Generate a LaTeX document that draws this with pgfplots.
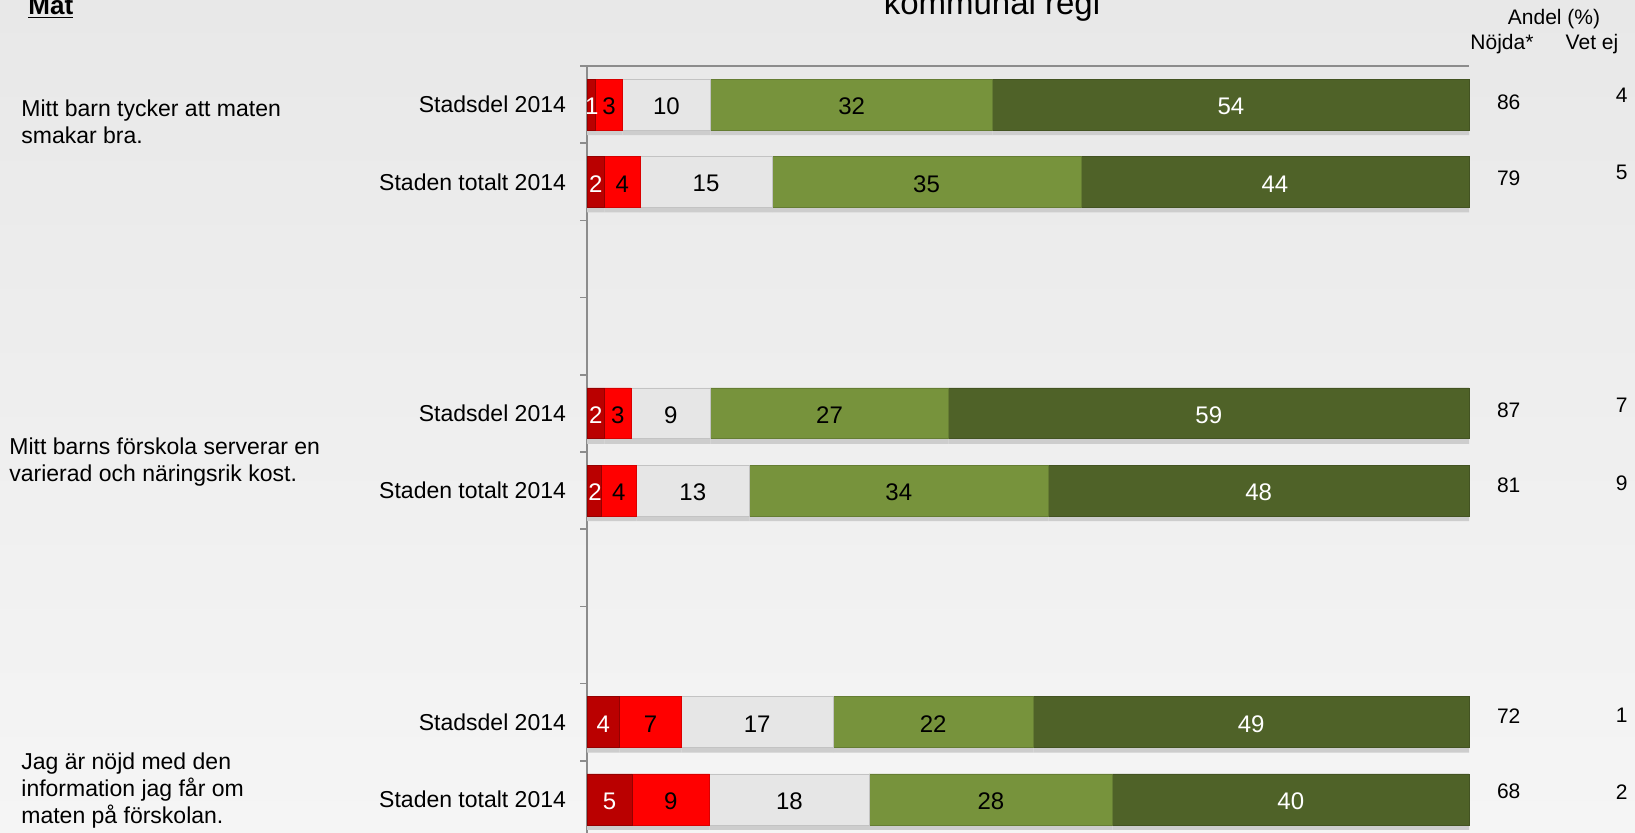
\documentclass[border=0pt]{standalone}
\usepackage{pgfplots}
\pgfplotsset{compat=1.18}
\usepackage{fontspec}
\setmainfont{Liberation Sans}
\definecolor{cA}{HTML}{BA0000}
\definecolor{cB}{HTML}{FF0000}
\definecolor{cC}{HTML}{E6E6E6}
\definecolor{cD}{HTML}{77933C}
\definecolor{cE}{HTML}{4F6228}
\definecolor{bgtop}{HTML}{E8E8E8}
\definecolor{bgbot}{HTML}{F5F5F5}
\definecolor{axisgray}{HTML}{8C8C8C}
\definecolor{shadowgray}{HTML}{CDCDCD}
% label at axis value (x,y): axis spans 587..1469 px horizontally, 66..838 px vertically
\newcommand{\lab}[4]{\node[text=#4,font=\fontsize{12}{14}\selectfont] at ({587+8.82*#1},{68+77.2*#2}) {#3};}
\newcommand{\rnum}[3]{\node[font=\fontsize{10.5}{12}\selectfont] at ({587+8.82*#1},{66+77.2*#2}) {#3};}
\begin{document}
\begin{tikzpicture}
\path[use as bounding box] (0,0) rectangle (817.5pt,-416pt);
\begin{scope}[x=0.5pt,y=-0.5pt]
\shade[top color=bgtop,bottom color=bgbot] (0,0) rectangle (1635,832);
\node[font=\fontsize{16.5}{18}\selectfont, anchor=base] at (992,14) {kommunal regi};
\node[font=\fontsize{13}{15}\selectfont\bfseries, anchor=base west, inner sep=0pt] at (28,14) {\underline{Mat}};
\node[font=\fontsize{10.5}{12}\selectfont] at (1554,19) {Andel (\%)};
\node[font=\fontsize{10.5}{12}\selectfont] at (1502,44) {Nöjda*};
\node[font=\fontsize{10.5}{12}\selectfont] at (1592,44) {Vet ej};
\node[anchor=west, align=left, inner sep=0pt, font=\fontsize{11.5}{13.5}\selectfont] at (21,122) {Mitt barn tycker att maten\\smakar bra.};
\node[anchor=west, align=left, inner sep=0pt, font=\fontsize{11.5}{13.5}\selectfont] at (9,462) {Mitt barns förskola serverar en\\varierad och näringsrik kost.};
\node[anchor=west, align=left, inner sep=0pt, font=\fontsize{11.5}{13.5}\selectfont] at (21,791) {Jag är nöjd med den\\information jag får om\\maten på förskolan.};
\end{scope}
\begin{axis}[
  at={(293.5pt,-33pt)}, anchor=north west,
  scale only axis, width=441pt, height=386pt,
  xmin=0, xmax=100, ymin=0, ymax=10, y dir=reverse,
  hide x axis,
  axis y line*=left,
  y axis line style={draw=axisgray, line width=0.8pt},
  ytick={0.5,1.5,4.5,5.5,8.5,9.5},
  yticklabels={Stadsdel 2014,Staden totalt 2014,Stadsdel 2014,Staden totalt 2014,Stadsdel 2014,Staden totalt 2014},
  minor ytick={0,1,...,10},
  major tick length=0pt, minor tick length=3.5pt,
  tick align=outside,
  minor tick style={draw=axisgray, line width=0.8pt},
  major tick style={draw=none},
  yticklabel style={font=\fontsize{11.5}{13}\selectfont, xshift=-7pt},
  xbar stacked, bar width=0.66,
  clip=false,
  every axis plot/.append style={line width=0.4pt, preaction={fill=shadowgray, draw=none, transform canvas={yshift=-2.5pt}}},
]
\addplot[fill=cA, draw=cA!80!black] coordinates {(1,0.5) (2,1.5) (2,4.5) (1.6,5.5) (3.7,8.5) (5.1,9.5)};
\addplot[fill=cB, draw=cB!85!black] coordinates {(3,0.5) (4,1.5) (3,4.5) (4.0,5.5) (7.0,8.5) (8.8,9.5)};
\addplot[fill=cC, draw=cC!85!black] coordinates {(10,0.5) (15,1.5) (9,4.5) (12.8,5.5) (17.2,8.5) (18.1,9.5)};
\addplot[fill=cD, draw=cD!85!black] coordinates {(32,0.5) (35,1.5) (27,4.5) (33.9,5.5) (22.7,8.5) (27.6,9.5)};
\addplot[fill=cE, draw=cE!85!black] coordinates {(54,0.5) (44,1.5) (59,4.5) (47.7,5.5) (49.4,8.5) (40.4,9.5)};
\draw[axisgray, line width=0.8pt] (axis cs:0,0) -- (axis cs:100,0);
\end{axis}
\begin{scope}[x=0.5pt,y=-0.5pt]
% segment labels (centres of the stacked segments)
\lab{0.55}{0.5}{1}{white}\lab{2.5}{0.5}{3}{black}\lab{9}{0.5}{10}{black}\lab{30}{0.5}{32}{black}\lab{73}{0.5}{54}{white}
\lab{1}{1.5}{2}{white}\lab{4}{1.5}{4}{black}\lab{13.5}{1.5}{15}{black}\lab{38.5}{1.5}{35}{black}\lab{78}{1.5}{44}{white}
\lab{1}{4.5}{2}{white}\lab{3.5}{4.5}{3}{black}\lab{9.5}{4.5}{9}{black}\lab{27.5}{4.5}{27}{black}\lab{70.5}{4.5}{59}{white}
\lab{0.9}{5.5}{2}{white}\lab{3.6}{5.5}{4}{black}\lab{12}{5.5}{13}{black}\lab{35.35}{5.5}{34}{black}\lab{76.15}{5.5}{48}{white}
\lab{1.85}{8.5}{4}{white}\lab{7.2}{8.5}{7}{black}\lab{19.3}{8.5}{17}{black}\lab{39.25}{8.5}{22}{black}\lab{75.3}{8.5}{49}{white}
\lab{2.55}{9.5}{5}{white}\lab{9.5}{9.5}{9}{black}\lab{22.95}{9.5}{18}{black}\lab{45.8}{9.5}{28}{black}\lab{79.8}{9.5}{40}{white}
% right columns: Nöjda* and Vet ej
\rnum{104.5}{0.466}{86}\rnum{104.5}{1.45}{79}\rnum{104.5}{4.456}{87}\rnum{104.5}{5.43}{81}\rnum{104.5}{8.42}{72}\rnum{104.5}{9.40}{68}
\rnum{117.3}{0.376}{4}\rnum{117.3}{1.373}{5}\rnum{117.3}{4.40}{7}\rnum{117.3}{5.40}{9}\rnum{117.3}{8.41}{1}\rnum{117.3}{9.40}{2}
\end{scope}
\end{tikzpicture}
\end{document}
